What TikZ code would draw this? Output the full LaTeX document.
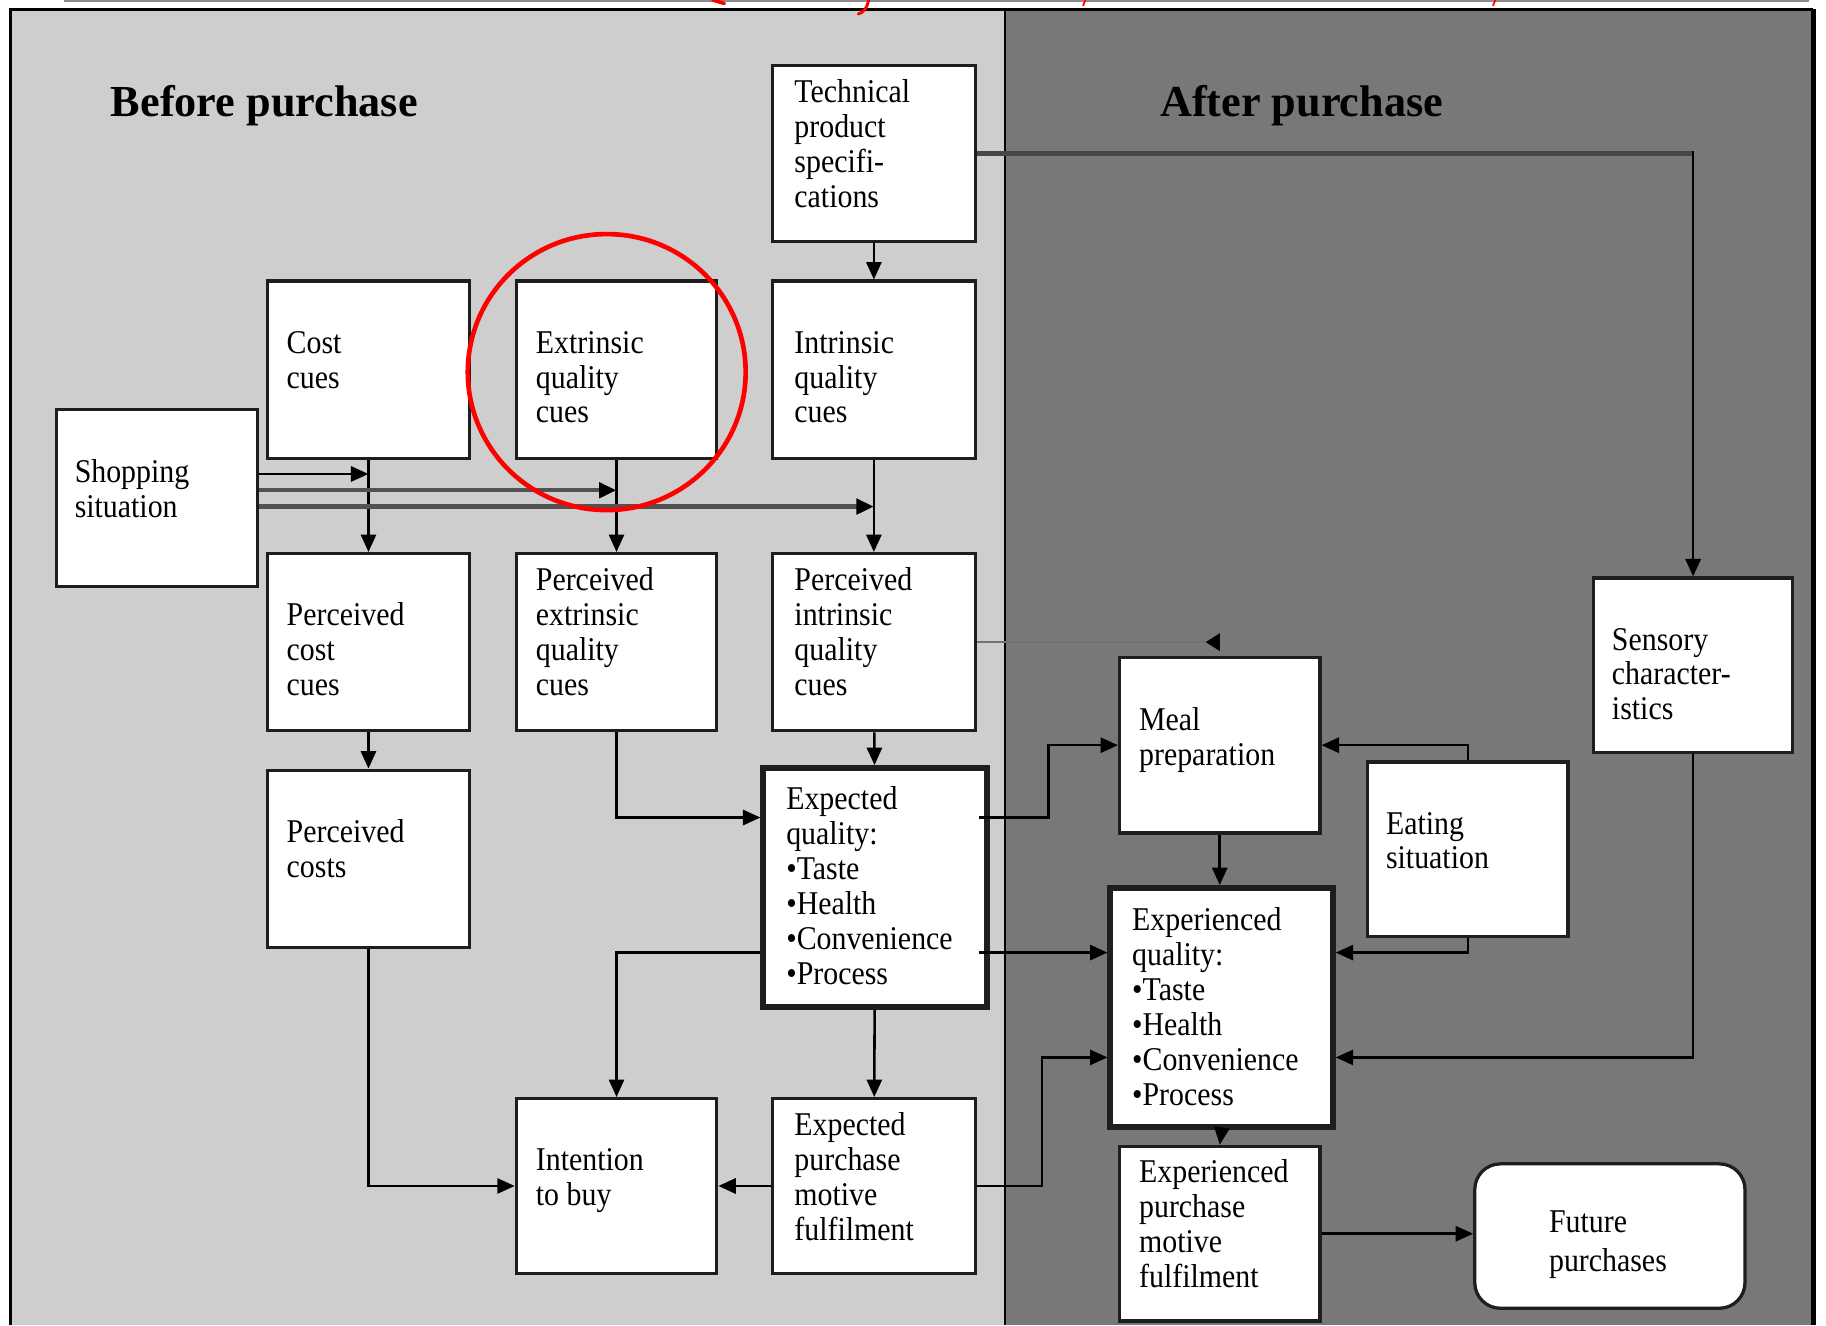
\documentclass[tikz,border=0pt]{standalone}
\usepackage{fontspec}
\setmainfont{Liberation Serif}
\newfontfamily\boxfont[FakeStretch=0.9]{Liberation Serif}
\usetikzlibrary{arrows.meta,calc}
\definecolor{lpanel}{HTML}{CECECE}
\definecolor{rpanel}{HTML}{787878}
\definecolor{boxline}{HTML}{1E1E1E}
\begin{document}
\begin{tikzpicture}[x=1pt,y=-1pt,
  box/.style={draw=boxline, line width=2.8pt, fill=white, inner sep=0pt, anchor=north west},
  bigbox/.style={box, line width=5pt},
  roundbox/.style={box, rounded corners=22pt},
  txt/.style={anchor=north west, inner sep=0pt, align=left, font=\boxfont\fontsize{28.5}{30}\selectfont},
  head/.style={anchor=base west, inner sep=0pt, font=\fontsize{38}{40}\selectfont\bfseries},
  conn/.style={draw=black, line width=2.2pt},
  arr/.style={conn, -{Triangle[length=15pt,width=13pt]}},
  grayarr/.style={draw=black!68, line width=3.8pt, -{Triangle[length=15pt,width=13pt,black]}},
  thinrev/.style={draw=black!55, line width=1.2pt, -{Triangle[reversed,length=12pt,width=15pt,black]}}
]
\useasboundingbox (0,0) rectangle (1568,1138);
% background panels
\fill[white] (0,0) rectangle (1568,1138);
\fill[lpanel] (9,8) rectangle (863,1138);
\fill[rpanel] (863,8) rectangle (1557,1138);
\draw[black, line width=2.5pt] (9,1138) -- (9,8) -- (1557,8);
\draw[black, line width=4pt] (1557,8) -- (1557,1138);
\draw[black, line width=2.2pt] (863,8) -- (863,1138);
\draw[black!45, line width=2pt] (55,1) -- (1553,1);
% cut-off red marks at the top edge
\draw[red, line width=3pt, line cap=round] (612,0) -- (622,3);
\draw[red, line width=2.5pt, line cap=round] (746,0) .. controls (744,8) and (741,11) .. (737,12);
\draw[red, line width=1.5pt] (932,0) -- (930,5);
\draw[red, line width=1.5pt] (1284,0) -- (1282,5);

% headings
\node[head] (hb) at (95,100) {Before purchase};
\node[head] (ha) at (996,100) {After purchase};

% boxes
\node[box, minimum width=174pt, minimum height=151pt] (tech) at (662,55) {};
\node[box, minimum width=174pt, minimum height=152pt] (cost) at (228,240) {};
\node[box, minimum width=172pt, minimum height=152pt] (extr) at (442,240) {};
\node[box, minimum width=174pt, minimum height=152pt] (intr) at (662,240) {};
\node[box, minimum width=173pt, minimum height=152pt] (shop) at (47,350) {};
\node[box, minimum width=174pt, minimum height=152pt] (pcc) at (228,474) {};
\node[box, minimum width=172pt, minimum height=152pt] (pec) at (442,474) {};
\node[box, minimum width=174pt, minimum height=152pt] (pic) at (662,474) {};
\node[box, minimum width=174pt, minimum height=152pt] (pc) at (228,660) {};
\node[bigbox, minimum width=192pt, minimum height=205pt] (eq) at (653,657) {};
\node[box, minimum width=172pt, minimum height=150pt] (itb) at (442,942) {};
\node[box, minimum width=174pt, minimum height=150pt] (epm) at (662,942) {};
\node[box, minimum width=172pt, minimum height=151pt] (meal) at (960,563) {};
\node[box, minimum width=172pt, minimum height=150pt] (eat) at (1173,653) {};
\node[box, minimum width=171pt, minimum height=150pt] (sens) at (1367,495) {};
\node[bigbox, minimum width=191pt, minimum height=205pt] (xq) at (951,760) {};
\node[box, minimum width=172pt, minimum height=150pt] (xpm) at (960,983) {};
\node[roundbox, minimum width=232pt, minimum height=124pt] (fut) at (1265,998) {};

% texts
\node[txt] (tech-t) at (682,67) {\strut Technical\\product\\specifi-\\cations};
\node[txt] (cost-t) at (246,282) {\strut Cost\\cues};
\node[txt] (extr-t) at (460,282) {\strut Extrinsic\\quality\\cues};
\node[txt] (intr-t) at (682,282) {\strut Intrinsic\\quality\\cues};
\node[txt] (shop-t) at (64,393) {\strut Shopping\\situation};
\node[txt] (pcc-t) at (246,516) {\strut Perceived\\cost\\cues};
\node[txt] (pec-t) at (460,486) {\strut Perceived\\extrinsic\\quality\\cues};
\node[txt] (pic-t) at (682,486) {\strut Perceived\\intrinsic\\quality\\cues};
\node[txt] (pc-t) at (246,702) {\strut Perceived\\costs};
\node[txt] (eq-t) at (675,674) {\strut Expected\\quality:\\•Taste\\•Health\\•Convenience\\•Process};
\node[txt] (itb-t) at (460,984) {\strut Intention\\to buy};
\node[txt] (epm-t) at (682,954) {\strut Expected\\purchase\\motive\\fulfilment};
\node[txt] (meal-t) at (978,606) {\strut Meal\\preparation};
\node[txt] (eat-t) at (1190,695) {\strut Eating\\situation};
\node[txt] (sens-t) at (1384,537) {\strut Sensory\\character-\\istics};
\node[txt] (xq-t) at (972,778) {\strut Experienced\\quality:\\•Taste\\•Health\\•Convenience\\•Process};
\node[txt] (xpm-t) at (978,994) {\strut Experienced\\purchase\\motive\\fulfilment};
\node[txt] (fut-t) at (1330,1037) {\strut Future\\[4pt]purchases};

% connectors
\draw[arr] (tech) -- (intr);
\coordinate (ts) at (sens.north |- tech.east);
\draw[draw=black!72, line width=4.5pt] (tech.east) -- (ts);
\draw[arr] ($(ts)+(0,-2)$) -- (sens.north);
\draw[arr] (cost) -- (pcc);
\draw[arr] (extr) -- (pec);
\draw[arr] (intr) -- (pic);
\coordinate (s1) at ($(shop.north east)+(0,57)$);
\coordinate (s2) at ($(shop.north east)+(0,71)$);
\coordinate (s3) at ($(shop.north east)+(0,85)$);
\draw[arr] (s1) -- (cost.south |- s1);
\draw[grayarr] (s2) -- (extr.south |- s2);
\draw[grayarr] (s3) -- (intr.south |- s3);
\draw[arr] (pcc) -- (pc);
\coordinate (e1) at ($(eq.north west)+(0,45)$);
\draw[arr] (pec.south) |- (e1);
\draw[arr] (pic) -- (eq);
\draw[thinrev] (pic.east) -- (meal.north |- pic.east);
\coordinate (k0) at ($(eq.north east)+(-9,45)$);
\draw[arr] (k0) -| ($(k0)!0.5!(meal.west)$) |- (meal.west);
\coordinate (l0) at ($(eq.north east)+(-9,161)$);
\draw[arr] (l0) -- (xq.west |- l0);
\coordinate (m0) at ($(eq.north west)+(0,161)$);
\draw[arr] (m0) -| (itb.north);
\draw[arr] (eq) -- (epm);
\draw[arr] (pc.south) |- (itb.west);
\draw[arr] (epm) -- (itb);
\coordinate (q1) at ($(xq.north west)+(0,148)$);
\draw[arr] (epm.east) -| ($(epm.east)!0.5!(q1)$) |- (q1);
\draw[arr] (meal.south) -- (meal.south |- xq.north);
\draw[arr] (eat.north) |- (meal.east);
\coordinate (t1) at ($(xq.north east)+(0,58)$);
\draw[arr] (eat.south) |- (t1);
\coordinate (u1) at ($(xq.north east)+(0,148)$);
\draw[arr] (sens.south) |- (u1);
\draw[arr] (xq.south) -- (xpm.north);
\draw[arr] (xpm.east) -- (fut.west |- xpm.east);

% red highlight circle
\draw[red, line width=4pt] (521,319.5) ellipse [x radius=119.3, y radius=118.5];
\end{tikzpicture}
\end{document}
